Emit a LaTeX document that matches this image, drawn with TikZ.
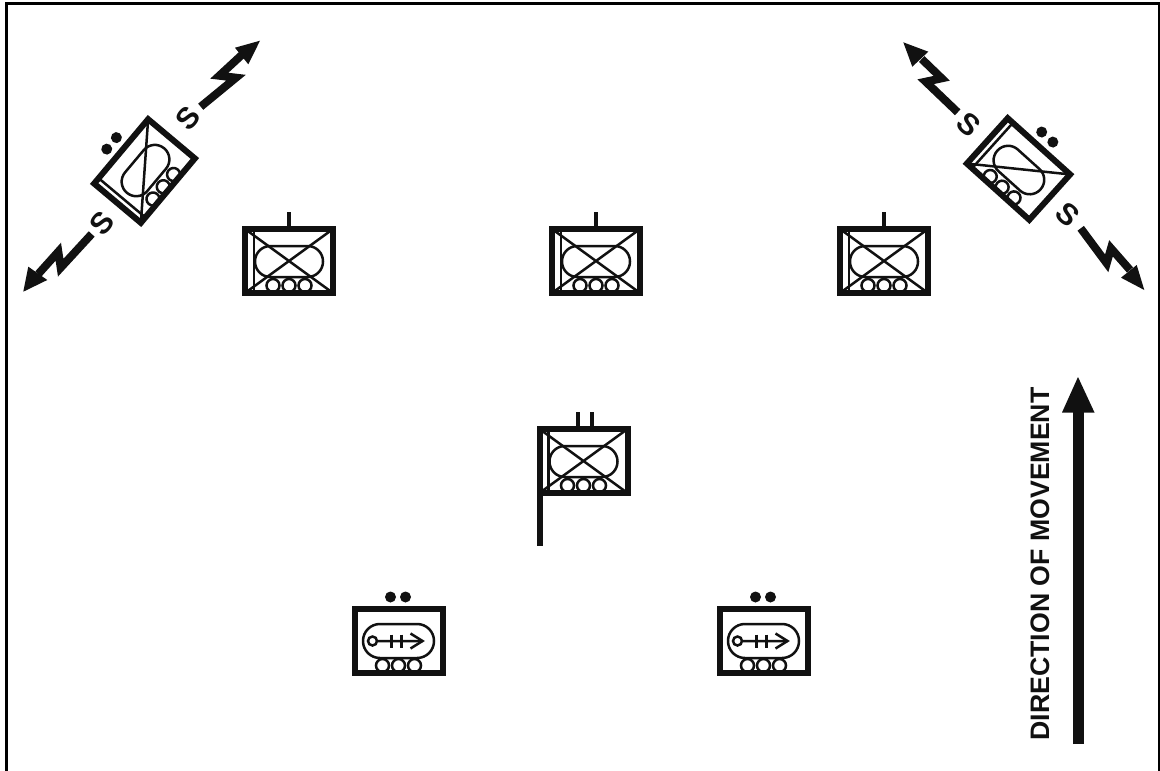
\documentclass[tikz,border=0pt]{standalone}
\usepackage{fontspec}
\setmainfont{Liberation Sans}
\definecolor{ink}{HTML}{111111}
\newcommand{\roadwheels}{\foreach \wx in {-16,0,16} \path[wheelring] (\wx,24.5) circle[radius=6.5];}
\tikzset{
  x=1pt,y=-1pt,
  thickline/.style={draw=ink,line width=6pt,line join=miter},
  thinline/.style={draw=ink,line width=2.5pt},
  stemline/.style={draw=ink,line width=4pt},
  wheelring/.style={draw=ink,line width=2.5pt,fill=white},
  dotmark/.style={fill=ink,draw=none},
  boltline/.style={draw=ink,line width=8pt,line join=miter,miter limit=6},
  headfill/.style={fill=ink,draw=none},
  sigtext/.style={font=\fontsize{30}{30}\selectfont\bfseries,text=ink,inner sep=0pt},
  tanksym/.pic={
    \draw[thinline] (-44,-32) -- (44,32) (-44,32) -- (44,-32);
    \draw[thinline] (-35,-32) -- (-35,32);
    \draw[thinline,rounded corners=15.4pt] (-34,-15) rectangle (34,16);
    \roadwheels
    \draw[thickline] (-44,-32) rectangle (44,32);
  },
  scoutsym/.pic={
    \draw[thinline] (-42,30.5) -- (42,-30.5);
    \draw[thinline] (-35,-30.5) -- (-35,30.5);
    \draw[thinline,rounded corners=14.4pt] (-28,-14) rectangle (30,15);
    \roadwheels
    \draw[thickline] (-42,-30.5) rectangle (42,30.5);
    \fill[dotmark] (-7.5,-43) circle[radius=5.5] (7.5,-43) circle[radius=5.5];
  },
  trainersym/.pic={
    \draw[thinline,rounded corners=16.9pt] (-35.5,-17) rectangle (35.5,17);
    \draw[thinline] (-26,0) circle[radius=4.5] (-21.5,0) -- (24,0);
    \draw[thinline] (-7,-6.5) -- (-7,6.5) (3,-6.5) -- (3,6.5);
    \draw[thinline] (12,-7.5) -- (24,0) -- (12,7.5);
    \roadwheels
    \draw[thickline] (-44,-32) rectangle (44,32);
    \fill[dotmark] (-8,-44) circle[radius=5.5] (7,-44) circle[radius=5.5];
  }
}
\newcommand{\zigzag}[7]{%
  \draw[boltline] #1 -- #2 -- #3 -- #4;
  \fill[headfill] #5 -- #6 -- #7 -- cycle;
}
\begin{document}
\begin{tikzpicture}
\useasboundingbox (0,0) rectangle (1160,771);
\fill[white] (0,0) rectangle (1160,771);
% frame, open at the bottom
\draw[black,line width=3pt] (6.5,771) -- (6.5,3.5) -- (1159,3.5) -- (1159,771);

% top row
\draw[stemline] (289,212) -- (289,228);
\pic (tankA) at (289,261) {tanksym};
\draw[stemline] (596,212) -- (596,228);
\pic (tankB) at (596,261) {tanksym};
\draw[stemline] (884,212) -- (884,228);
\pic (tankC) at (884,261) {tanksym};

% commander
\draw[stemline] (578,412) -- (578,428);
\draw[stemline] (592,412) -- (592,428);
\pic (tankD) at (583.5,461) {tanksym};
\draw[draw=ink,line width=6pt] (539.5,490) -- (539.5,546);

% lower pair
\pic (trainA) at (398.5,641) {trainersym};
\pic (trainB) at (763.5,641) {trainersym};

% flank scouts
\pic[rotate=50] (scoutL) at (144.5,171) {scoutsym};
\pic[rotate=-42] (scoutR) at (1018.5,169) {scoutsym};

\node[sigtext,rotate=50] (sA) at (188.3,118.3) {S};
\node[sigtext,rotate=50] (sB) at (102.3,223.3) {S};
\node[sigtext,rotate=-42] (sC) at (969,124.3) {S};
\node[sigtext,rotate=-42] (sD) at (1068.3,215) {S};

\zigzag{(200.7,106.7)}{(236,77.7)}{(219.3,75.7)}{(241.7,55)}{(260,40.7)}{(235,47.7)}{(248.3,64.3)}
\zigzag{(91.7,234)}{(60.7,267.7)}{(58.3,251.7)}{(38.3,274)}{(23.3,291.7)}{(28.3,266.7)}{(47.3,280)}
\zigzag{(957.7,112.3)}{(925.7,81.7)}{(941.7,78.3)}{(921.7,59)}{(903.3,42.3)}{(928.3,51.7)}{(912.3,66.7)}
\zigzag{(1080.7,228.3)}{(1106.7,263.3)}{(1111,248.3)}{(1130,270)}{(1144.3,290)}{(1136.7,265)}{(1121,277.7)}

% direction arrow
\coordinate (moveFoot) at (1078.5,744);
\coordinate (moveNeck) at (1078.5,412);
\draw[draw=ink,line width=10.5pt] (moveFoot) -- (moveNeck);
\fill[headfill] (1078,377) -- (1094.5,412.5) -- (1062,412.5) -- cycle;
\node[rotate=90,inner sep=0pt,text=ink,font=\fontsize{26.7}{26.7}\selectfont\bfseries] (moveText) at (1040,564) {DIRECTION OF MOVEMENT};
\end{tikzpicture}
\end{document}
